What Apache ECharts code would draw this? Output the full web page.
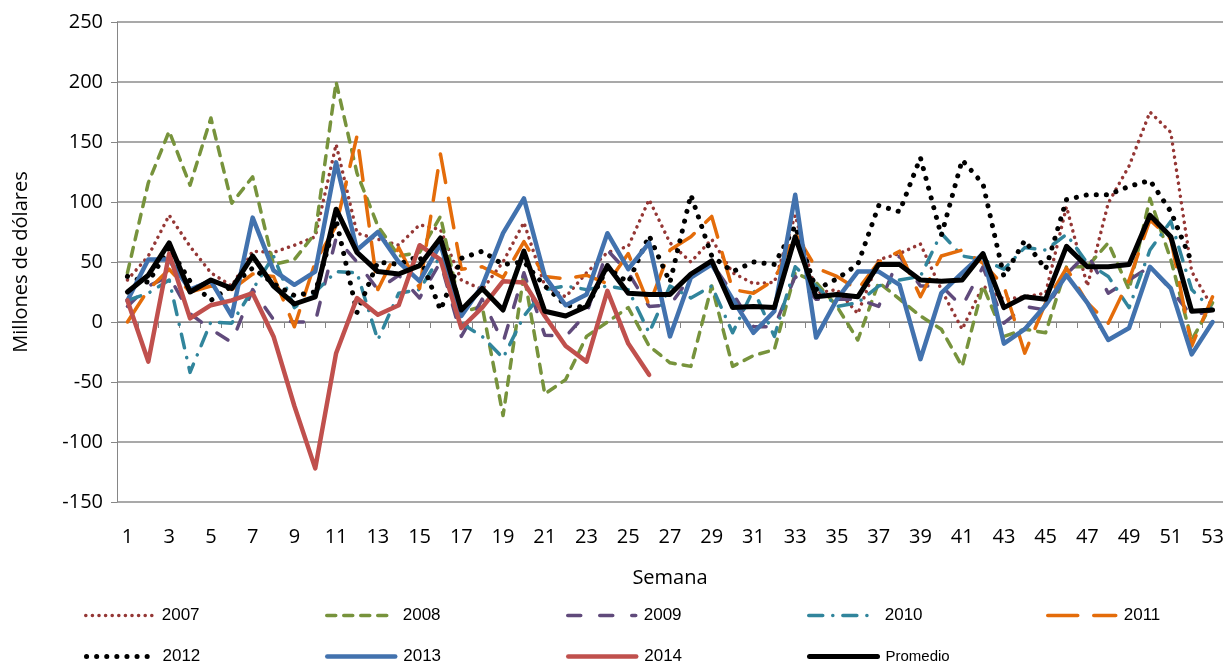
<!DOCTYPE html>
<html>
<head>
<meta charset="utf-8">
<title>Millones de dólares por semana</title>
<script src="https://cdn.jsdelivr.net/npm/echarts@6/dist/echarts.min.js"></script>
<style>
  html, body { margin: 0; padding: 0; background: #fff; }
  #chart { width: 1229px; height: 665px; }
</style>
</head>
<body>
<div id="chart"></div>
<script>
// Data
const weeks = ['1','2','3','4','5','6','7','8','9','10','11','12','13','14','15','16','17','18','19','20',
  '21','22','23','24','25','26','27','28','29','30','31','32','33','34','35','36','37','38','39','40',
  '41','42','43','44','45','46','47','48','49','50','51','52','53']

const y2007 = [35,55,89,63,41,30,59,58,64,71,148,74,69,64,81,77,35,27,50,83,30,21,41,58,63,102,66,50,69,41,
  32,33,89,24,27,7,52,57,65,27,-6,30,19,21,24,96,30,99,130,175,158,42,12]
const y2008 = [41,116,159,114,170,99,121,48,52,74,200,124,80,55,58,88,8,13,-78,40,-60,-48,-12,0,12,-20,-34,-37,30,-37,
  -28,-23,41,33,13,-15,33,19,5,-6,-37,30,-12,-6,-9,46,46,66,27,103,52,-15,16]
const y2009 = [13,30,38,7,-6,-17,27,2,0,0,70,50,27,39,20,50,-12,19,-17,41,-11,-12,7,60,41,13,14,38,49,24,
  -4,-4,38,19,19,19,13,55,30,30,13,46,-1,13,10,40,57,24,35,46,27,5,10]
const y2010 = [18,24,35,-42,0,-1,27,55,12,25,42,41,-15,24,27,55,-1,-12,-30,5,27,30,27,30,27,-9,30,20,30,-9,
  27,-12,46,30,13,16,30,35,38,74,55,52,44,62,60,73,49,38,12,60,84,27,10]
const y2011 = [0,27,44,25,30,27,40,38,-4,50,80,155,27,62,28,140,44,46,37,67,38,36,39,32,57,14,60,71,88,27,
  24,35,74,45,38,27,50,59,21,55,60,49,30,-26,16,45,16,-1,35,85,69,-20,21]
const y2012 = [38,33,62,34,18,30,45,32,22,25,85,8,50,48,55,10,53,59,48,50,30,14,12,45,33,72,33,106,55,42,
  50,48,80,27,36,48,97,92,137,72,135,115,38,68,44,102,106,106,113,118,92,50,null]
const y2013 = [18,52,52,27,34,5,87,43,31,42,133,60,75,50,34,65,5,30,74,103,38,14,23,74,44,66,-12,37,48,19,
  -9,9,106,-13,19,42,42,31,-31,24,41,57,-18,-6,14,39,16,-15,-5,46,28,-27,0]
const y2014 = [18,-33,57,3,14,18,24,-12,-70,-122,-26,20,6,14,64,52,-5,12,34,33,5,-20,-33,26,-18,-44]
const promedio = [25,39,66,25,35,28,55,30,15,21,94,58,42,40,47,70,10,28,10,59,9,5,13,47,24,23,23,40,51,12,
  13,12,71,21,23,21,48,48,35,34,35,57,12,21,19,63,46,46,48,89,71,9,10]

const yTicks = { min: -150, max: 250, interval: 50 }

// Helpers
const lineSeries = (name, data, color, width, dash, z) => ({
  name,
  type: 'line',
  data,
  xAxisIndex: 0,
  symbol: 'none',
  smooth: false,
  z: z || 2,
  lineStyle: { color, width, type: dash || 'solid', cap: 'round', join: 'round' },
  itemStyle: { color }
})

// one legend per entry so the 5 x 2 layout lines up like the original
const legendItem = (name, left, top, lineWidth, fontSize) => ({
  left,
  top,
  itemWidth: 68,
  itemHeight: 14,
  selectedMode: false,
  itemStyle: { opacity: 0 },
  lineStyle: { width: lineWidth },
  textStyle: { fontFamily: 'Liberation Sans', fontSize: fontSize || 17, color: '#000', padding: [0, 0, 0, 3] },
  data: [name]
})

const chart = echarts.init(document.getElementById('chart'))

const option = {
  animation: false,
  textStyle: { fontFamily: 'Open Sans' },
  grid: { left: 117, right: 6, top: 22, bottom: 163 },
  legend: [
    legendItem('2007', 79, 602, 3.5),
    legendItem('2008', 320, 602, 3.5),
    legendItem('2009', 561, 602, 3.5),
    legendItem('2010', 802, 602, 3.5),
    legendItem('2011', 1041, 602, 3.5),
    legendItem('2012', 79, 643, 5),
    legendItem('2013', 320, 643, 4.5),
    legendItem('2014', 561, 643, 4.5),
    legendItem('Promedio', 802, 644, 5, 15)
  ],
  xAxis: [
    {
      // axis line on zero with ticks between weeks
      type: 'category',
      data: weeks,
      boundaryGap: true,
      axisLine: { onZero: true, lineStyle: { color: '#868686', width: 1 } },
      axisTick: { show: true, interval: 0, length: 6, lineStyle: { color: '#868686' } },
      axisLabel: { show: false },
      splitLine: { show: false }
    },
    {
      // labels at the bottom of the plot
      type: 'category',
      data: weeks,
      boundaryGap: true,
      position: 'bottom',
      axisLine: { show: false, onZero: false },
      axisTick: { show: false },
      axisLabel: { interval: 1, margin: 25, fontSize: 20, color: '#000', fontFamily: 'Open Sans' },
      name: 'Semana',
      nameLocation: 'middle',
      nameGap: 66,
      nameTextStyle: { fontSize: 20, color: '#000', fontFamily: 'Open Sans' }
    }
  ],
  yAxis: {
    type: 'value',
    min: yTicks.min,
    max: yTicks.max,
    interval: yTicks.interval,
    axisLine: { show: true, lineStyle: { color: '#868686', width: 1 } },
    axisTick: { show: true, length: 6, lineStyle: { color: '#868686' } },
    axisLabel: { fontSize: 20, color: '#000', margin: 14, fontFamily: 'Open Sans' },
    splitLine: { show: true, lineStyle: { color: '#8c8c8c', width: 1.5 } },
    name: 'Millones de dólares',
    nameLocation: 'middle',
    nameGap: 86,
    nameTextStyle: { fontSize: 20, color: '#000', fontFamily: 'Open Sans' }
  },
  series: [
    lineSeries('2007', y2007, '#953735', 3.5, [0.1, 6.5]),
    lineSeries('2008', y2008, '#77933C', 3.5, [9, 8]),
    lineSeries('2009', y2009, '#604A7B', 3.5, [13, 19]),
    lineSeries('2010', y2010, '#31859C', 3.5, [14, 10, 0.1, 10]),
    lineSeries('2011', y2011, '#E46C0A', 3.5, [30, 16]),
    lineSeries('2012', y2012, '#000000', 5, [0.1, 10]),
    lineSeries('2013', y2013, '#4272AE', 4.5, 'solid', 3),
    lineSeries('2014', y2014, '#C0504D', 4.5, 'solid', 3),
    lineSeries('Promedio', promedio, '#000000', 5, 'solid', 4)
  ]
}

chart.setOption(option)
</script>
</body>
</html>
